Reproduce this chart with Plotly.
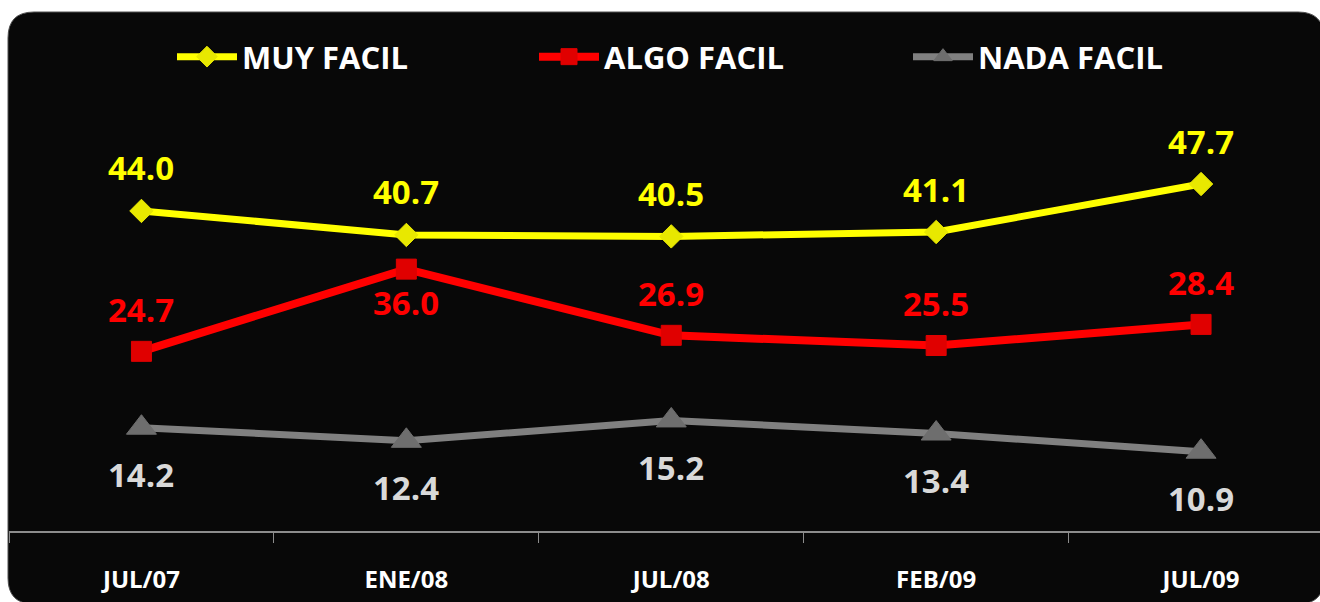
import plotly.graph_objects as go

categories = ["JUL/07", "ENE/08", "JUL/08", "FEB/09", "JUL/09"]
muy_facil = [44.0, 40.7, 40.5, 41.1, 47.7]
algo_facil = [24.7, 36.0, 26.9, 25.5, 28.4]
nada_facil = [14.2, 12.4, 15.2, 13.4, 10.9]
# label placement: +1 above point, -1 below point
algo_label_side = [1, -1, 1, 1, 1]

W, H = 1320, 602
ML, MR, MT, MB = 9, 0, 80, 71
PW, PH = W - ML - MR, H - MT - MB


def px(x):
    return (x - ML) / PW


def py(y):
    return (H - MB - y) / PH


FONT = "Open Sans"

fig = go.Figure()

series = [
    ("MUY FACIL", muy_facil, "#FFFF00", "#E8E800", "diamond", 18, 7, "legend"),
    ("ALGO FACIL", algo_facil, "#FF0000", "#E00000", "square", 20, 8, "legend2"),
    ("NADA FACIL", nada_facil, "#808080", "#6E6E6E", "triangle-up", 26, 7, "legend3"),
]
for name, vals, col, mcol, sym, size, lw, leg in series:
    fig.add_trace(go.Scatter(
        x=categories, y=vals, name=name, mode="lines+markers",
        line=dict(color=col, width=lw),
        marker=dict(symbol=sym, size=size, color=mcol,
                    line=dict(color=mcol, width=1)),
        legend=leg, hoverinfo="skip",
    ))

label_font = dict(family=FONT, size=33, weight="bold")
for c, v in zip(categories, muy_facil):
    fig.add_annotation(x=c, y=v, text=f"{v:.1f}", showarrow=False, yshift=43,
                       font=dict(label_font, color="#FFFF00"))
for c, v, s in zip(categories, algo_facil, algo_label_side):
    fig.add_annotation(x=c, y=v, text=f"{v:.1f}", showarrow=False,
                       yshift=42 if s > 0 else -33,
                       font=dict(label_font, color="#FF0000"))
for c, v in zip(categories, nada_facil):
    fig.add_annotation(x=c, y=v, text=f"{v:.1f}", showarrow=False, yshift=-47,
                       font=dict(label_font, color="#D9D9D9"))

# rounded dark panel
x0, x1, y0, y1, r = 8, 1324, 12, 604, 26
path = (
    f"M {px(x0 + r)} {py(y0)} L {px(x1 - r)} {py(y0)} "
    f"Q {px(x1)} {py(y0)} {px(x1)} {py(y0 + r)} "
    f"L {px(x1)} {py(y1 - r)} Q {px(x1)} {py(y1)} {px(x1 - r)} {py(y1)} "
    f"L {px(x0 + r)} {py(y1)} Q {px(x0)} {py(y1)} {px(x0)} {py(y1 - r)} "
    f"L {px(x0)} {py(y0 + r)} Q {px(x0)} {py(y0)} {px(x0 + r)} {py(y0)} Z"
)
fig.add_shape(type="path", path=path, xref="paper", yref="paper",
              fillcolor="#080808", line=dict(color="#505050", width=1), layer="below")

leg_common = dict(orientation="h", yanchor="middle", y=py(57), xanchor="left",
                  bgcolor="rgba(0,0,0,0)", borderwidth=0, itemwidth=60,
                  font=dict(family=FONT, size=31, color="white", weight="bold"))

fig.update_layout(
    width=W, height=H,
    margin=dict(l=ML, r=MR, t=MT, b=MB),
    paper_bgcolor="white", plot_bgcolor="rgba(0,0,0,0)",
    showlegend=True,
    legend=dict(leg_common, x=px(172)),
    legend2=dict(leg_common, x=px(534)),
    legend3=dict(leg_common, x=px(908)),
    xaxis=dict(type="category", range=[-0.5, 4.449], tickson="boundaries",
               ticks="outside", ticklen=10, tickcolor="#8C8C8C", tickwidth=1,
               showline=True, linecolor="#8C8C8C", linewidth=2,
               showgrid=False, zeroline=False, ticklabelstandoff=26,
               tickfont=dict(family=FONT, size=24, color="white", weight="bold")),
    yaxis=dict(range=[0, 62], visible=False, showgrid=False, zeroline=False),
)

fig.write_html("out.html", config={"displayModeBar": False},
               post_script="document.body.style.margin='0';document.body.style.overflow='hidden';")
